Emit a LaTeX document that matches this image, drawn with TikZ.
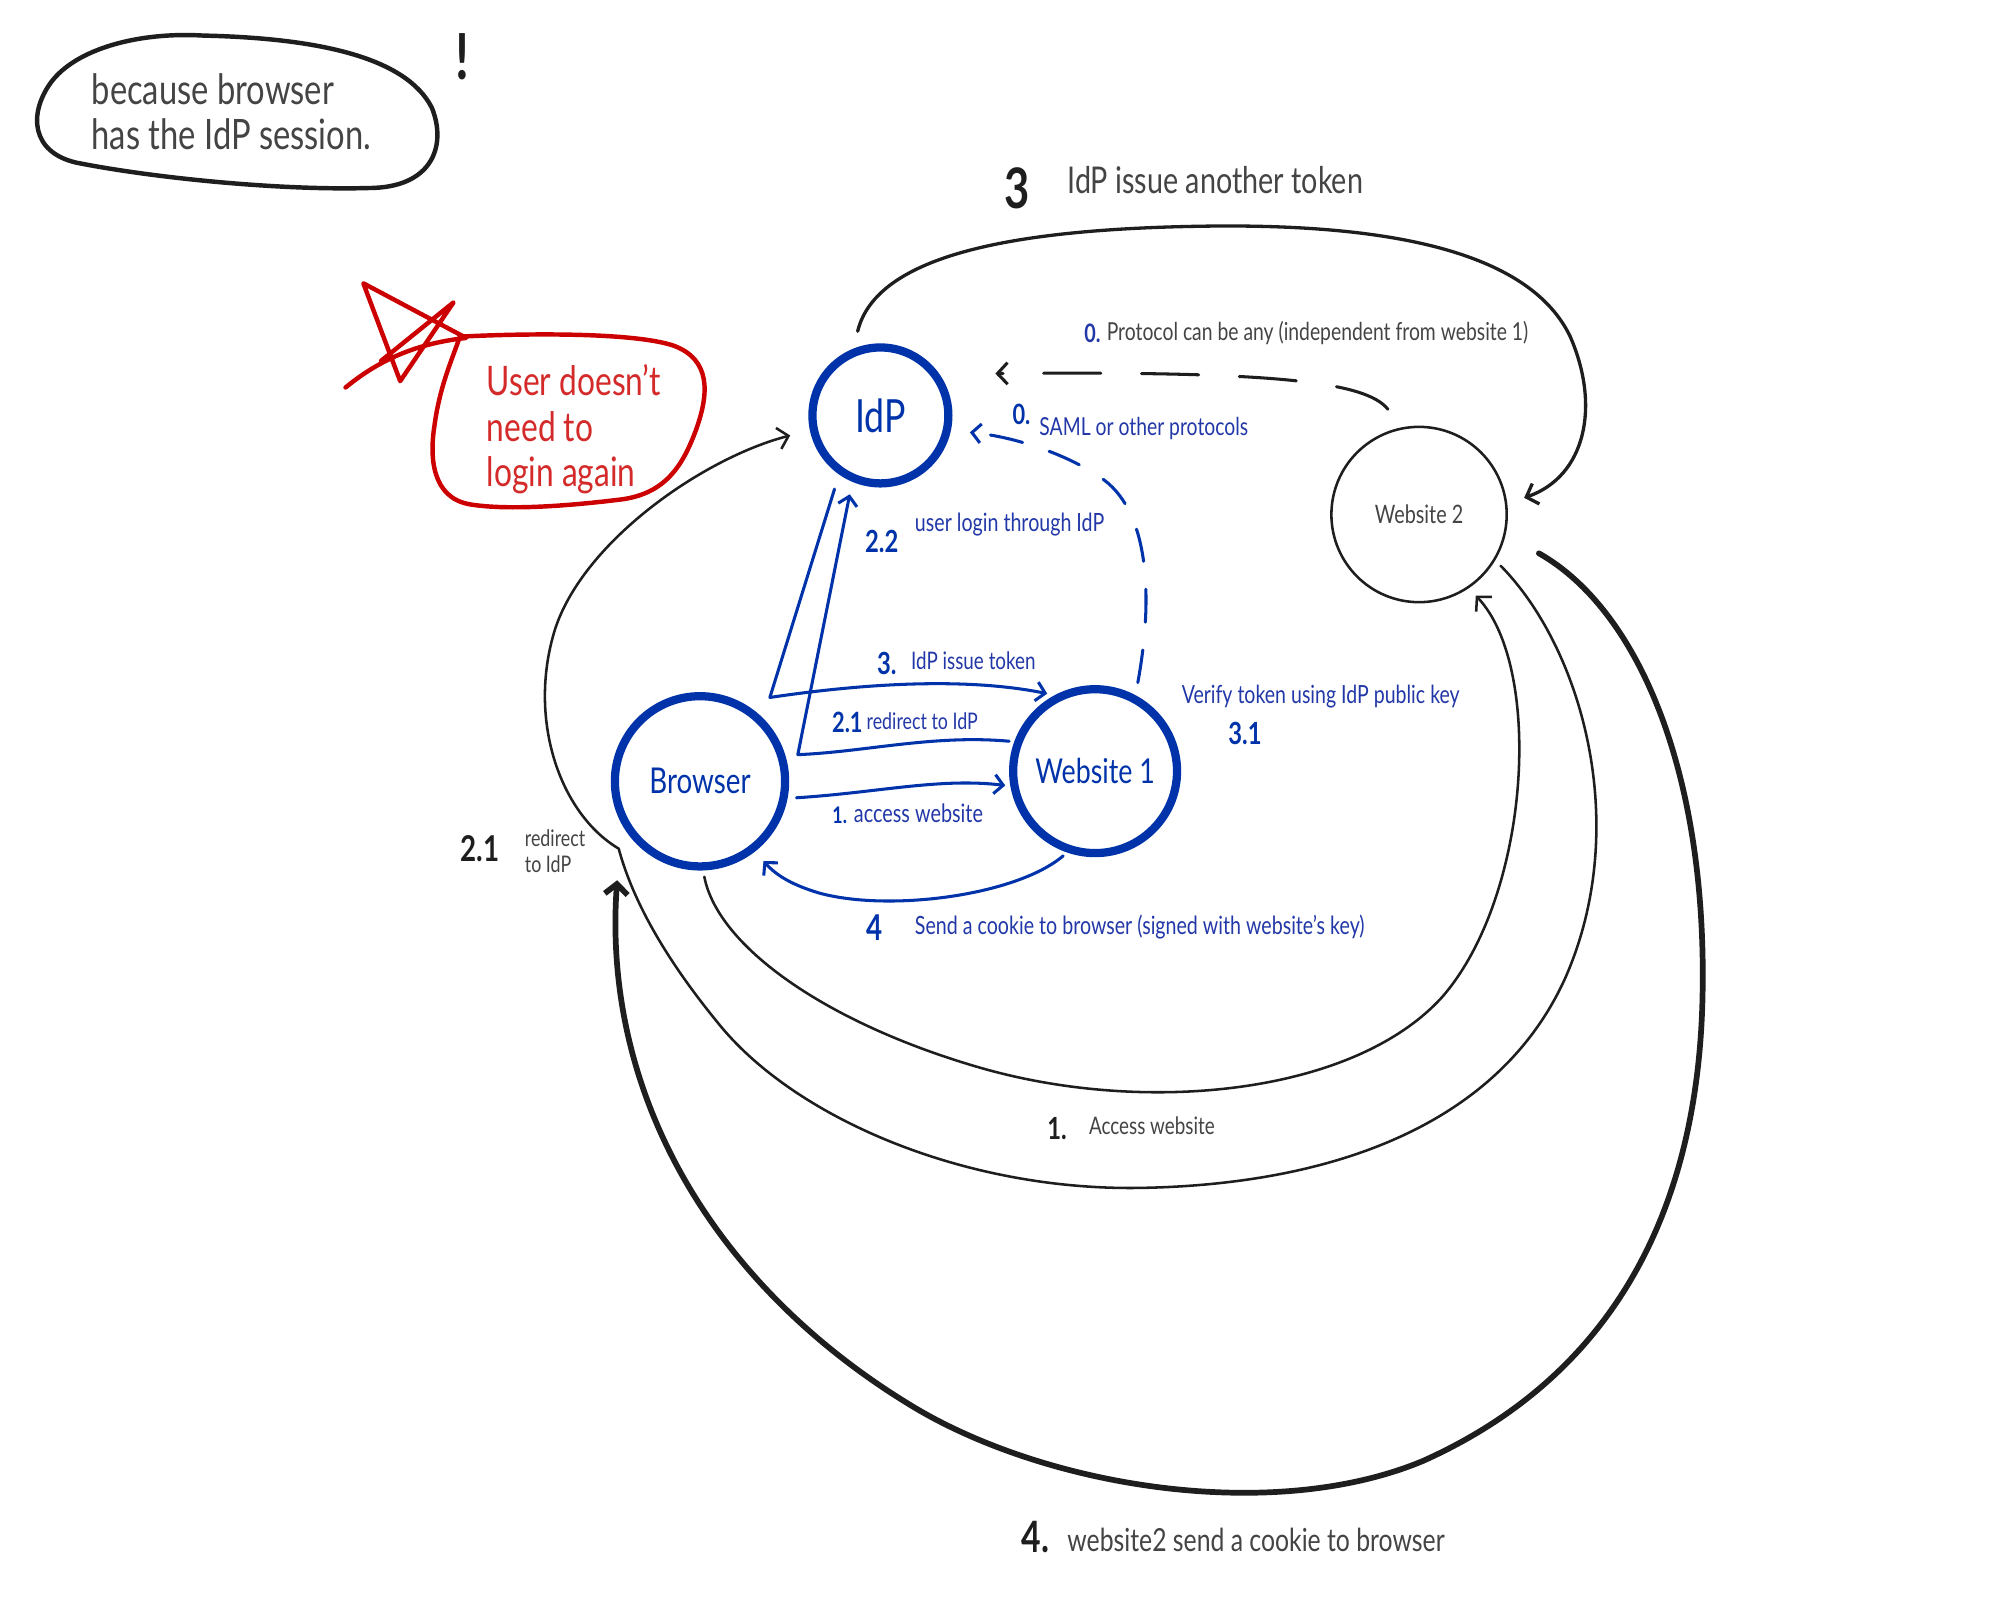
\documentclass[tikz,border=0pt]{standalone}
\usepackage{fontspec}
\setmainfont{Lato}[FakeStretch=0.78]
\usetikzlibrary{arrows.meta,calc}
\definecolor{nodeblue}{HTML}{0033AA}
\definecolor{lblue}{HTML}{2238A8}
\definecolor{ink}{HTML}{1E1E1E}
\definecolor{gtext}{HTML}{444444}
\definecolor{redline}{HTML}{CC0000}
\definecolor{redtext}{HTML}{D42A2A}
\begin{document}
\begin{tikzpicture}[x=1pt,y=-1pt,
  fs/.style={font=\fontsize{#1}{#1}\selectfont},
  bignode/.style={circle, draw=nodeblue, line width=6.5pt, text=nodeblue, inner sep=0pt},
  blueline/.style={draw=nodeblue, line width=2.4pt, line cap=round, line join=round},
  blk/.style={draw=ink, line width=2pt, line cap=round, line join=round},
  barb/.style={-{Straight Barb[length=7pt,width=15pt]}},
  barbk/.style={-{Straight Barb[length=8pt,width=17pt]}},
  blab/.style={text=lblue, anchor=west, inner sep=0pt},
  glab/.style={text=gtext, anchor=west, inner sep=0pt},
  hnum/.style={inner sep=0pt, font=\bfseries\fontsize{#1}{#1}\selectfont},
]
\useasboundingbox[fill=white] (0,0) rectangle (1568,1264);

% ---- note cloud
\draw[ink, line width=3.5pt, line cap=round, line join=round]
  (160,28) .. controls (250,30) and (320,45) .. (340,85)
  .. controls (352,115) and (340,148) .. (290,148)
  .. controls (220,150) and (120,140) .. (60,128)
  .. controls (25,120) and (22,90) .. (40,65)
  .. controls (60,38) and (110,25) .. (160,28);
\node[anchor=west, inner sep=0pt, text=gtext, align=left, font=\fontsize{33}{36}\selectfont] (note) at (72,88) {because browser\\has the IdP session.};
\node[hnum=50, text=ink] (excl) at (364,45) {!};

% ---- red callout
\draw[redline, line width=3.5pt, line cap=round, line join=round]
  (362,265) .. controls (420,262) and (500,262) .. (530,272)
  .. controls (560,283) and (558,310) .. (548,338)
  .. controls (538,365) and (525,388) .. (490,393)
  .. controls (450,398) and (400,402) .. (370,397)
  .. controls (340,392) and (338,360) .. (342,335)
  .. controls (346,305) and (355,285) .. (362,265);
\draw[redline, line width=3.5pt, line cap=round, line join=round]
  (272,305) .. controls (300,282) and (330,270) .. (367,266)
  -- (286,223) -- (315,300) -- (357,238) -- (300,284);
\node[anchor=west, inner sep=0pt, text=redtext, align=left, font=\fontsize{32}{36}\selectfont] (usr) at (383,338) {User doesn't\\need to\\login again};

% ---- main nodes
\node[bignode, minimum size=107pt, fs=36] (idp) at (693,327) {IdP};
\node[bignode, minimum size=134pt, fs=28] (br) at (551,615) {Browser};
\node[bignode, minimum size=129pt, fs=27] (w1) at (862,607) {Website 1};
\node[circle, draw=ink, line width=2pt, minimum size=138pt, inner sep=0pt, text=gtext, fs=20] (w2) at (1117,405) {Website 2};

% ---- black connectors
\draw[blk, line width=2.6pt, barbk, shorten <=14pt, shorten >=14pt]
  (idp.112) .. controls (690,200) and (800,180) .. (950,178)
  .. controls (1100,176) and (1205,200) .. (1236,265)
  .. controls (1260,320) and (1248,375) .. (w2.7);
\draw[blk, line width=2.4pt, dash pattern=on 45pt off 32pt, barbk, shorten <=18pt, shorten >=44pt]
  (w2.101) .. controls (1075,300) and (1000,292) .. (idp.35);
\draw[blk, barbk, shorten <=5pt, shorten >=8pt]
  (br.-88) .. controls (565,745) and (650,805) .. (770,840)
  .. controls (900,878) and (1065,862) .. (1135,785)
  .. controls (1205,705) and (1215,525) .. (w2.-56);
\coordinate (kink) at (487,668);
\draw[blk, barbk, shorten <=6pt, shorten >=16pt]
  (w2.-31) .. controls (1245,510) and (1285,650) .. (1232,770)
  .. controls (1180,885) and (1050,932) .. (900,935)
  .. controls (760,938) and (625,880) .. (565,805)
  .. controls (520,750) and (497,705) .. (kink)
  .. controls (440,640) and (415,565) .. (437,495)
  .. controls (460,425) and (555,360) .. (idp.192);
\draw[blk, line width=4.5pt, -{Straight Barb[length=8pt,width=18pt]}, shorten <=30pt, shorten >=45pt]
  (w2.-13) .. controls (1290,480) and (1345,610) .. (1340,790)
  .. controls (1335,960) and (1265,1085) .. (1120,1150)
  .. controls (1000,1200) and (820,1170) .. (715,1105)
  .. controls (560,1010) and (474,860) .. (br.-152);

% ---- blue connectors
\draw[blueline, dash pattern=on 26pt off 22pt, barb, shorten <=10pt, shorten >=15pt]
  (w1.62) .. controls (908,470) and (905,400) .. (865,375)
  .. controls (840,358) and (800,344) .. (idp.-12);
\coordinate (c21) at (628,594);
\draw[blueline, barb, shorten <=4pt, shorten >=10pt]
  (w1.160) .. controls (735,578) and (680,592) .. (c21) -- (idp.-113);
\coordinate (c3) at (606,549);
\draw[blueline, barb, shorten <=12pt, shorten >=6pt]
  (idp.-125) -- (c3) .. controls (680,538) and (760,533) .. (w1.118);
\draw[blueline, barb, shorten <=7pt, shorten >=4pt]
  (br.-11) .. controls (690,624) and (740,612) .. (w1.190);
\draw[blueline, barb, shorten <=4pt, shorten >=10pt]
  (w1.-109) .. controls (800,705) and (700,718) .. (645,703)
  .. controls (625,697) and (612,690) .. (br.-52);

% ---- black labels
\node[hnum=44, text=ink] (n3top) at (801,148) {3};
\node[glab, fs=29] (l3top) at (840,142) {IdP issue another token};
\node[hnum=20, text=lblue] (n0a) at (860,262) {0.};
\node[glab, fs=19.5] (l0a) at (871,262) {Protocol can be any (independent from website 1)};
\node[hnum=28, text=ink] (n21k) at (378,668) {2.1};
\node[glab, align=left, font=\fontsize{18}{20}\selectfont] (l21k) at (413,670) {redirect\\to IdP};
\node[hnum=24, text=ink] (n1k) at (832,888) {1.};
\node[glab, fs=19] (l1k) at (857,886) {Access website};
\node[hnum=34, text=ink] (n4k) at (815,1210) {4.};
\node[glab, fs=25] (l4k) at (840,1212) {website2 send a cookie to browser};

% ---- blue labels
\node[hnum=22, text=nodeblue] (n0b) at (804,326) {0.};
\node[blab, fs=19.5] (l0b) at (818,337) {SAML or other protocols};
\node[hnum=24, text=nodeblue] (n22) at (694,426) {2.2};
\node[blab, fs=19.8] (l22) at (720,413) {user login through IdP};
\node[hnum=24, text=nodeblue] (n3) at (698,522) {3.};
\node[blab, fs=19] (l3) at (717,520) {IdP issue token};
\node[hnum=22, text=nodeblue] (n21) at (667,569) {2.1};
\node[blab, fs=18] (l21) at (682,568) {redirect to IdP};
\node[hnum=18, text=nodeblue] (n1) at (661,642) {1.};
\node[blab, fs=20] (l1) at (672,640) {access website};
\node[hnum=28, text=nodeblue] (n4) at (688,730) {4};
\node[blab, fs=19.8] (l4) at (720,730) {Send a cookie to browser (signed with website's key)};
\node[blab, fs=19.7] (lv) at (930,548) {Verify token using IdP public key};
\node[hnum=24, text=nodeblue] (n31) at (980,577) {3.1};
\end{tikzpicture}
\end{document}
